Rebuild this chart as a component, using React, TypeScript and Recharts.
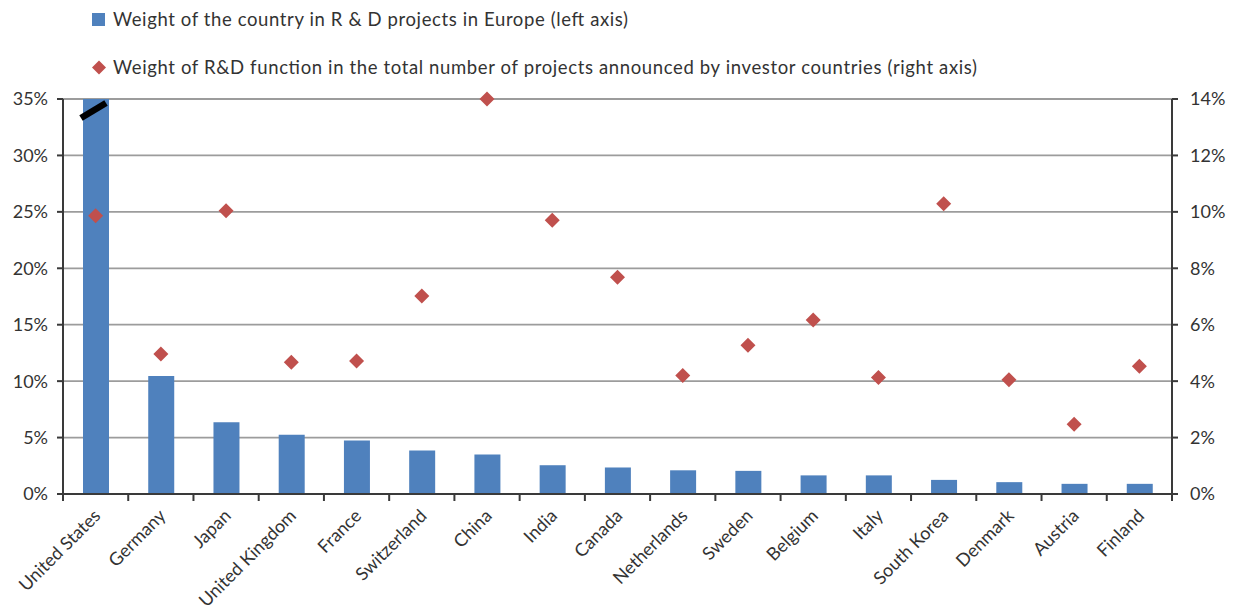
import React from 'react';
import { ComposedChart, Bar, Line, XAxis, YAxis, CartesianGrid, Rectangle } from 'recharts';

const categories = [
  'United States', 'Germany', 'Japan', 'United Kingdom', 'France', 'Switzerland', 'China', 'India',
  'Canada', 'Netherlands', 'Sweden', 'Belgium', 'Italy', 'South Korea', 'Denmark', 'Austria', 'Finland',
];
// Left axis: weight of the country in R&D projects in Europe (%). US bar is truncated at the axis top.
const weightInEurope = [35, 10.45, 6.35, 5.25, 4.75, 3.85, 3.5, 2.55, 2.35, 2.1, 2.05, 1.65, 1.65, 1.25, 1.05, 0.9, 0.9];
// Right axis: weight of R&D function in total projects announced by investor countries (%)
const rdShare = [9.86, 4.96, 10.04, 4.67, 4.71, 7.02, 14.0, 9.7, 7.68, 4.2, 5.27, 6.17, 4.13, 10.29, 4.05, 2.47, 4.53];
const brokenBars = ['United States'];

const leftTicks = [0, 5, 10, 15, 20, 25, 30, 35];
const rightTicks = [0, 2, 4, 6, 8, 10, 12, 14];

const legendLabels = [
  'Weight of the country in R & D projects in Europe (left axis)',
  'Weight of R&D function in the total number of projects announced by investor countries (right axis)',
];

const data = categories.map((c, i) => ({ name: c, europe: weightInEurope[i], share: rdShare[i] }));

const W = 1235;
const H = 615;
const FONT = 'Lato, "Open Sans", sans-serif';
const BLUE = '#4F81BD';
const RED = '#C0504D';
const AXIS = '#3a3a3a';
const TEXT = '#333333';
const Y_AXIS_W = 55;
const MARGIN = { top: 99, right: 8, bottom: 0, left: 8 };
const PLOT_W = W - MARGIN.left - MARGIN.right - 2 * Y_AXIS_W;
const BAND = PLOT_W / categories.length;

const BarShape = (props: any) => {
  const { x, y, width, height, payload } = props;
  const broken = payload && brokenBars.includes(payload.name);
  return (
    <g>
      <Rectangle x={x} y={y} width={width} height={height} fill={BLUE} />
      {broken && (
        <line x1={x - 2} y1={y + 19} x2={x + width - 3} y2={y + 4} stroke="#000" strokeWidth={6.5} />
      )}
    </g>
  );
};

const renderDiamond = (props: any) => {
  const { cx, cy, index } = props;
  if (cx == null || cy == null) return <g key={`d-${index}`} />;
  const r = 7.5;
  return (
    <polygon
      key={`d-${index}`}
      points={`${cx},${cy - r} ${cx + r},${cy} ${cx},${cy + r} ${cx - r},${cy}`}
      fill={RED}
    />
  );
};

const XTick = (props: any) => {
  const { x, y, payload, index } = props;
  const last = index === categories.length - 1;
  return (
    <g>
      <line x1={x - BAND / 2} y1={y} x2={x - BAND / 2} y2={y + 7} stroke={AXIS} strokeWidth={2} />
      {last && <line x1={x + BAND / 2} y1={y} x2={x + BAND / 2} y2={y + 7} stroke={AXIS} strokeWidth={2} />}
      <text
        transform={`translate(${x + 6},${y + 23}) rotate(-45)`}
        textAnchor="end"
        fontSize={18}
        fontFamily={FONT}
        fill={TEXT}
      >
        {payload.value}
      </text>
    </g>
  );
};

const Legend = () => (
  <svg width={W} height={95} style={{ position: 'absolute', left: 0, top: 0 }}>
    <rect x={92} y={13} width={13} height={13} fill={BLUE} />
    <text x={113} y={26} fontSize={18.5} fontFamily={FONT} fill={TEXT} textLength={515} lengthAdjust="spacing">
      {legendLabels[0]}
    </text>
    <polygon points="99,60.5 106,67.5 99,74.5 92,67.5" fill={RED} />
    <text x={113} y={74} fontSize={18.5} fontFamily={FONT} fill={TEXT} textLength={864} lengthAdjust="spacing">
      {legendLabels[1]}
    </text>
  </svg>
);

export default function App() {
  return (
    <div style={{ position: 'absolute', left: 0, top: 0, width: W, height: H, background: '#fff', fontFamily: FONT }}>
      <ComposedChart width={W} height={H} data={data} margin={MARGIN}>
        <CartesianGrid yAxisId="left" vertical={false} stroke="#9c9c9c" strokeWidth={1.8} />
        <XAxis
          dataKey="name"
          interval={0}
          tickSize={0}
          tickMargin={0}
          tickLine={false}
          axisLine={{ stroke: AXIS, strokeWidth: 2 }}
          height={121}
          tick={<XTick />}
        />
        <YAxis
          yAxisId="left"
          orientation="left"
          domain={[0, 35]}
          ticks={leftTicks}
          allowDataOverflow
          width={Y_AXIS_W}
          tickSize={6}
          tickMargin={9}
          tickFormatter={(v: number) => `${v}%`}
          axisLine={{ stroke: AXIS, strokeWidth: 2 }}
          tickLine={{ stroke: AXIS, strokeWidth: 2 }}
          tick={{ fontSize: 18, fill: TEXT, fontFamily: FONT }}
        />
        <YAxis
          yAxisId="right"
          orientation="right"
          domain={[0, 14]}
          ticks={rightTicks}
          width={Y_AXIS_W}
          tickSize={6}
          tickMargin={12}
          tickFormatter={(v: number) => `${v}%`}
          axisLine={{ stroke: AXIS, strokeWidth: 2 }}
          tickLine={{ stroke: AXIS, strokeWidth: 2 }}
          tick={{ fontSize: 18, fill: TEXT, fontFamily: FONT }}
        />
        <Bar yAxisId="left" dataKey="europe" barSize={26} fill={BLUE} shape={<BarShape />} isAnimationActive={false} />
        <Line
          yAxisId="right"
          dataKey="share"
          stroke="none"
          dot={renderDiamond}
          activeDot={false}
          isAnimationActive={false}
        />
      </ComposedChart>
      <Legend />
    </div>
  );
}
